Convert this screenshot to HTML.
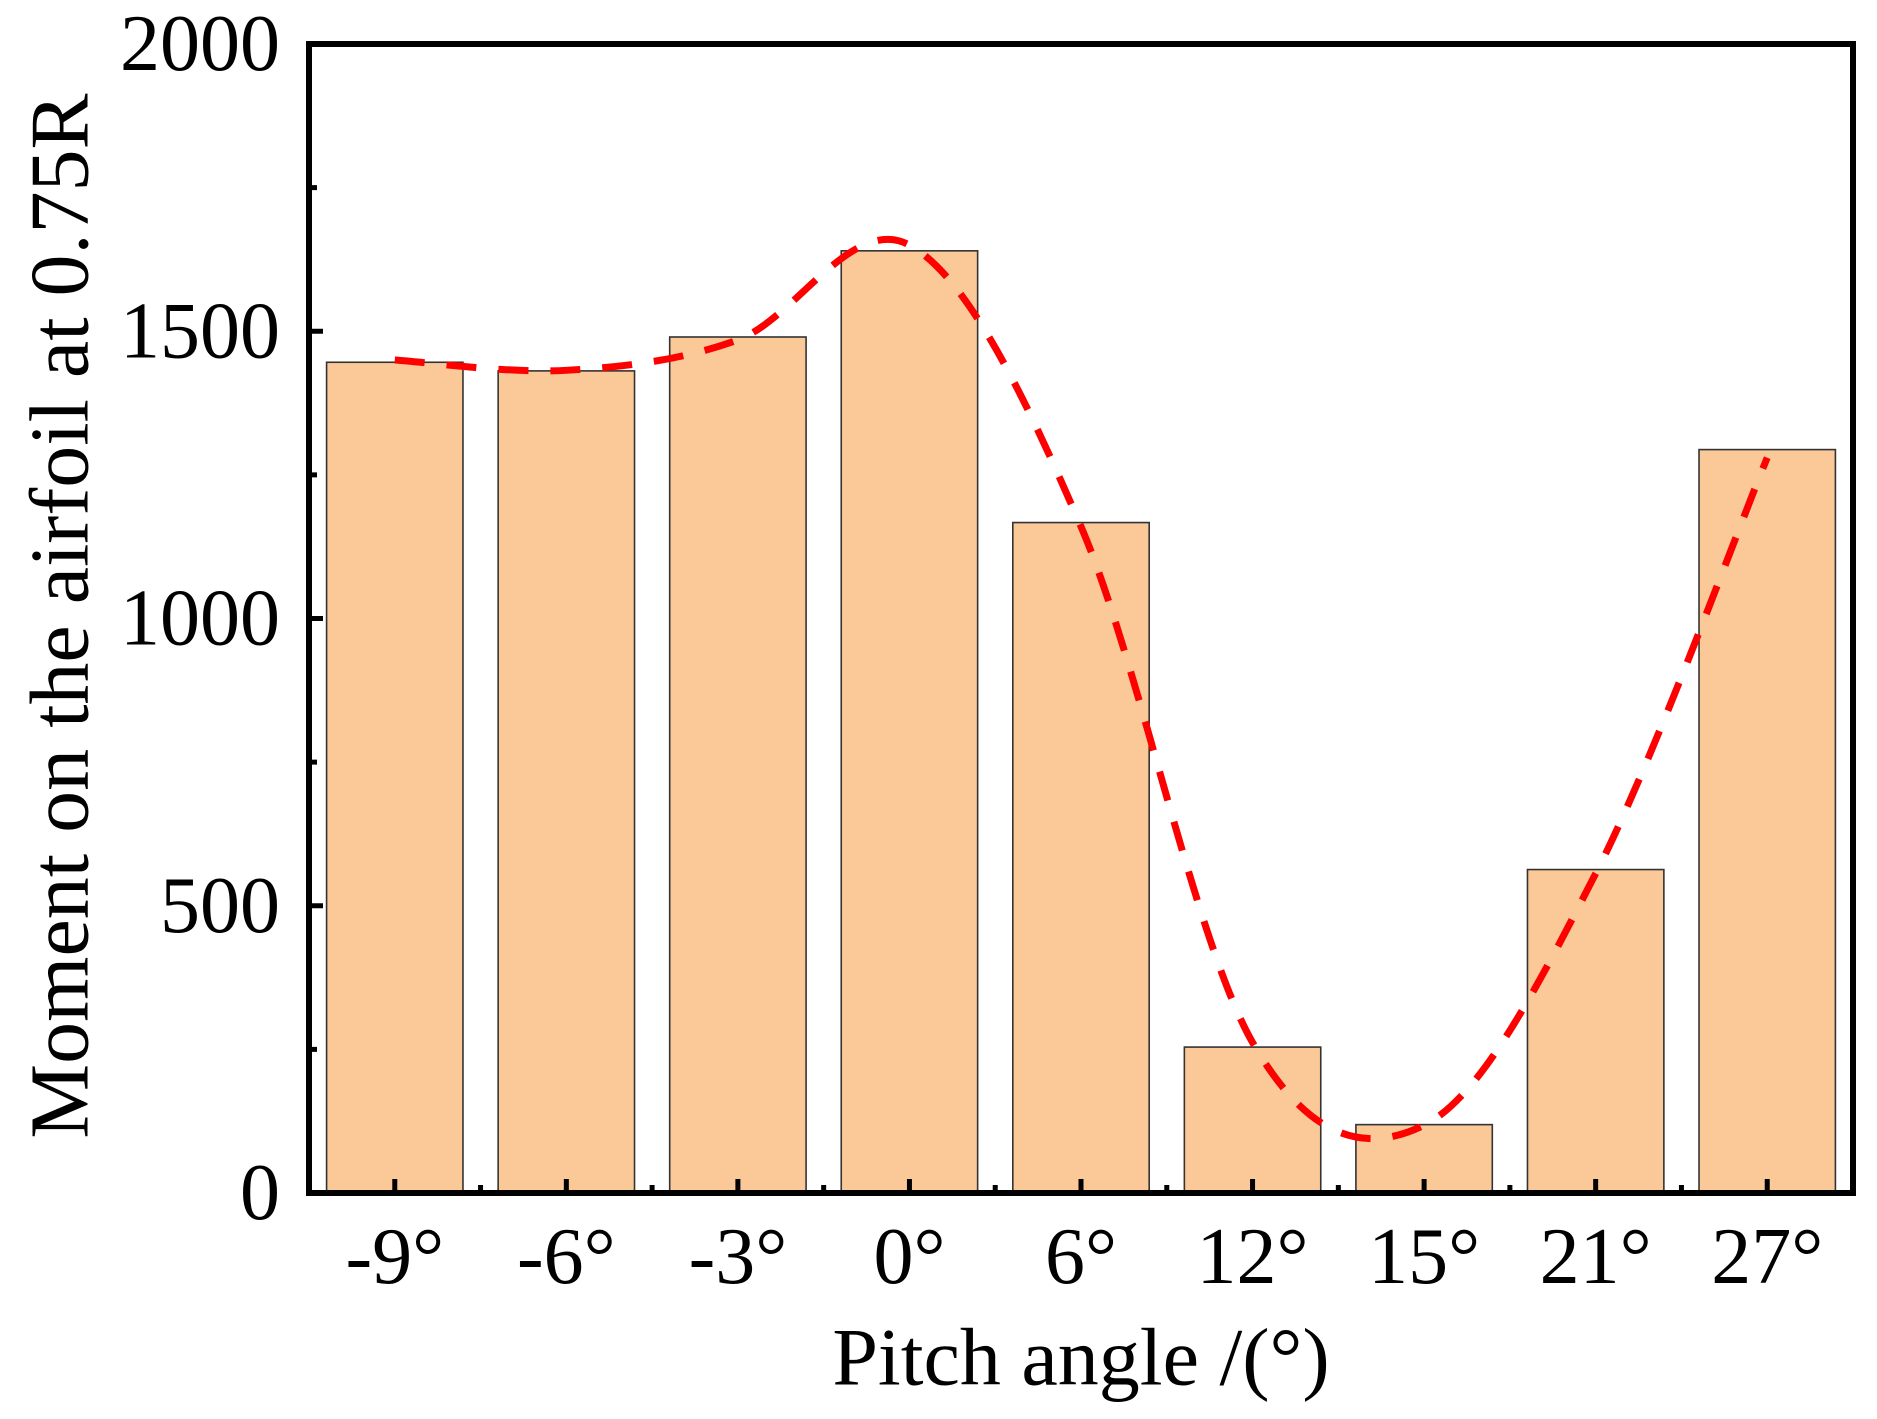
<!DOCTYPE html>
<html><head><meta charset="utf-8"><style>
html,body{margin:0;padding:0;background:#fff;}
svg{display:block;font-family:"Liberation Serif",serif;}
</style></head><body>
<svg id="chart" width="1877" height="1419" viewBox="0 0 1877 1419" xmlns="http://www.w3.org/2000/svg">
<g id="bars"></g>
<path id="trend" fill="none" stroke="#ff0000" stroke-width="7" stroke-dasharray="30 22"/>
<g id="axes"></g>
<text x="1081" y="1357" font-size="82" text-anchor="middle" dominant-baseline="central">Pitch angle /(°)</text>
<text transform="translate(60,616) rotate(-90)" font-size="84" text-anchor="middle" dominant-baseline="central">Moment on the airfoil at 0.75R</text>
</svg>
<script>
const categories = ["-9°","-6°","-3°","0°","6°","12°","15°","21°","27°"];
const moments = [1446, 1431, 1490, 1640, 1167, 254, 119, 563, 1294];
const trendValues = [1450, 1432, 1485, 1650, 1160, 262, 118, 556, 1280];
const yTicks = [0, 500, 1000, 1500, 2000];
const yMinorTicks = [250, 750, 1250, 1750];

const L = 309, R = 1853, T = 44, B = 1193;
const yMax = 2000;
const band = (R - L) / categories.length;
function xScale(i){ return L + band * (i + 0.5); }
function yScale(v){ return B - (v / yMax) * (B - T); }
const NS = "http://www.w3.org/2000/svg";
function mk(tag, attrs, parent){
  const e = document.createElementNS(NS, tag);
  for (const k in attrs) e.setAttribute(k, attrs[k]);
  parent.appendChild(e); return e;
}
const barsG = document.getElementById('bars');
const bw = band * 0.795;
moments.forEach((v, i) => {
  const r = mk('rect', {x: xScale(i) - bw/2, y: yScale(v), width: bw, height: B - yScale(v), fill: '#FBC998', stroke: '#333', 'stroke-width': 1.6}, barsG);
  
  
});
const pts = trendValues.map((v, i) => [xScale(i), yScale(v)]);
let d = `M${pts[0][0]},${pts[0][1]}`;
for (let i = 0; i < pts.length - 1; i++) {
  const p0 = pts[Math.max(0, i-1)], p1 = pts[i], p2 = pts[i+1], p3 = pts[Math.min(pts.length-1, i+2)];
  const c1 = [p1[0] + (p2[0]-p0[0])/6, p1[1] + (p2[1]-p0[1])/6];
  const c2 = [p2[0] - (p3[0]-p1[0])/6, p2[1] - (p3[1]-p1[1])/6];
  d += ` C${c1[0]},${c1[1]} ${c2[0]},${c2[1]} ${p2[0]},${p2[1]}`;
}
document.getElementById('trend').setAttribute('d', d);

const ax = document.getElementById('axes');
const frame = mk('rect', {x: L, y: T, width: R - L, height: B - T, fill: 'none', stroke: '#000', 'stroke-width': 6}, ax);


yTicks.forEach(v => {
  const y = yScale(v);
  const t = mk('line', {x1: L, x2: L + 14, y1: y, y2: y, stroke: '#000', 'stroke-width': 5}, ax);
  
  
  const lb = mk('text', {x: 280, y: y, 'font-size': 80, 'text-anchor': 'end', 'dominant-baseline': 'central'}, ax);
  lb.textContent = v;
  
  
});
yMinorTicks.forEach(v => {
  const y = yScale(v);
  const t = mk('line', {x1: L, x2: L + 8, y1: y, y2: y, stroke: '#000', 'stroke-width': 5}, ax);
  
  
});
categories.forEach((c, i) => {
  const x = xScale(i);
  const t = mk('line', {x1: x, x2: x, y1: B, y2: B - 14, stroke: '#000', 'stroke-width': 5}, ax);
  
  
  if (i < categories.length - 1) {
    const m = mk('line', {x1: x + band/2, x2: x + band/2, y1: B, y2: B - 8, stroke: '#000', 'stroke-width': 5}, ax);
    
    
  }
  const lb = mk('text', {x: x, y: 1257, 'font-size': 80, 'text-anchor': 'middle', 'dominant-baseline': 'central'}, ax);
  lb.textContent = c;
  
  
});
</script>
</body></html>
